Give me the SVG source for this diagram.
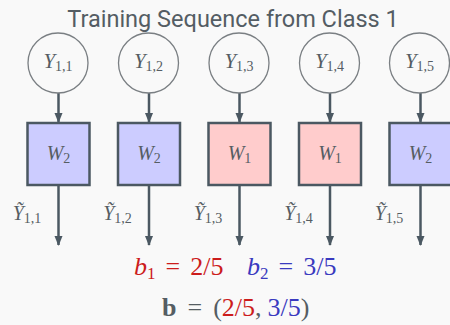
<svg xmlns="http://www.w3.org/2000/svg" width="450" height="325" viewBox="0 0 450 325">
<defs>
<style>
.title{font-family:Roboto,"Liberation Sans",sans-serif;font-size:23.5px;fill:#545d64;text-anchor:middle}
.m{font-family:"Liberation Serif","DejaVu Serif",serif;fill:#555d63;text-anchor:middle}
.big{font-family:"Liberation Serif","DejaVu Serif",serif;font-size:26px}
.it{font-style:italic}
.sub{font-size:14px}
.node circle{fill:#f9f9f9;stroke:#7a7f83;stroke-width:1.3}
.box rect{stroke:#4b5862;stroke-width:2.5}
.blue rect{fill:#ccccff}
.red rect{fill:#ffcccc}
.conn line{stroke:#4b5862;stroke-width:2.5}
.r{fill:#cc1c1c}
.b{fill:#3a3abf}
.g{fill:#555d63}
</style>
<marker id="ah" viewBox="0 0 10 10" refX="9" refY="5" markerWidth="4" markerHeight="4" markerUnits="strokeWidth" orient="auto">
<path d="M0,1 L10,5 L0,9 z" fill="#4b5862"/>
</marker>
</defs>
<rect width="450" height="325" fill="#f9f9f9"/>
<text class="title" x="233" y="27">Training Sequence from Class 1</text>

<g class="conn">
<line x1="58.5" y1="93" x2="58.5" y2="122" marker-end="url(#ah)"/>
<line x1="149" y1="93" x2="149" y2="122" marker-end="url(#ah)"/>
<line x1="239.5" y1="93" x2="239.5" y2="122" marker-end="url(#ah)"/>
<line x1="330" y1="93" x2="330" y2="122" marker-end="url(#ah)"/>
<line x1="420.5" y1="93" x2="420.5" y2="122" marker-end="url(#ah)"/>
<line x1="58.5" y1="186" x2="58.5" y2="245" marker-end="url(#ah)"/>
<line x1="149" y1="186" x2="149" y2="245" marker-end="url(#ah)"/>
<line x1="239.5" y1="186" x2="239.5" y2="245" marker-end="url(#ah)"/>
<line x1="330" y1="186" x2="330" y2="245" marker-end="url(#ah)"/>
<line x1="420.5" y1="186" x2="420.5" y2="245" marker-end="url(#ah)"/>
</g>

<g id="y11" class="node"><circle cx="58" cy="63" r="30"/><text class="m" x="58" y="68" font-size="21"><tspan class="it">Y</tspan><tspan class="sub" dy="3">1,1</tspan></text></g>
<g id="y12" class="node"><circle cx="148.5" cy="63" r="30"/><text class="m" x="148.5" y="68" font-size="21"><tspan class="it">Y</tspan><tspan class="sub" dy="3">1,2</tspan></text></g>
<g id="y13" class="node"><circle cx="239" cy="63" r="30"/><text class="m" x="239" y="68" font-size="21"><tspan class="it">Y</tspan><tspan class="sub" dy="3">1,3</tspan></text></g>
<g id="y14" class="node"><circle cx="329.5" cy="63" r="30"/><text class="m" x="329.5" y="68" font-size="21"><tspan class="it">Y</tspan><tspan class="sub" dy="3">1,4</tspan></text></g>
<g id="y15" class="node"><circle cx="419.5" cy="63" r="30"/><text class="m" x="419.5" y="68" font-size="21"><tspan class="it">Y</tspan><tspan class="sub" dy="3">1,5</tspan></text></g>

<g id="w1" class="box blue"><rect x="27.5" y="123" width="62" height="62"/><text class="m" x="58.5" y="160" font-size="20"><tspan class="it">W</tspan><tspan class="sub" dy="3">2</tspan></text></g>
<g id="w2" class="box blue"><rect x="118" y="123" width="62" height="62"/><text class="m" x="149" y="160" font-size="20"><tspan class="it">W</tspan><tspan class="sub" dy="3">2</tspan></text></g>
<g id="w3" class="box red"><rect x="208.5" y="123" width="62" height="62"/><text class="m" x="239.5" y="160" font-size="20"><tspan class="it">W</tspan><tspan class="sub" dy="3">1</tspan></text></g>
<g id="w4" class="box red"><rect x="299" y="123" width="62" height="62"/><text class="m" x="330" y="160" font-size="20"><tspan class="it">W</tspan><tspan class="sub" dy="3">1</tspan></text></g>
<g id="w5" class="box blue"><rect x="389.5" y="123" width="62" height="62"/><text class="m" x="420.5" y="160" font-size="20"><tspan class="it">W</tspan><tspan class="sub" dy="3">2</tspan></text></g>

<g id="labels">
<text class="m" x="27" y="220" font-size="20"><tspan class="it">Ỹ</tspan><tspan class="sub" dy="3">1,1</tspan></text>
<text class="m" x="117.5" y="220" font-size="20"><tspan class="it">Ỹ</tspan><tspan class="sub" dy="3">1,2</tspan></text>
<text class="m" x="208" y="220" font-size="20"><tspan class="it">Ỹ</tspan><tspan class="sub" dy="3">1,3</tspan></text>
<text class="m" x="298.5" y="220" font-size="20"><tspan class="it">Ỹ</tspan><tspan class="sub" dy="3">1,4</tspan></text>
<text class="m" x="389" y="220" font-size="20"><tspan class="it">Ỹ</tspan><tspan class="sub" dy="3">1,5</tspan></text>
</g>

<g id="counts">
<text class="big r" x="134" y="275"><tspan class="it">b</tspan><tspan font-size="17" dy="4">1</tspan><tspan dy="-4" dx="10">=</tspan><tspan dx="10">2/5</tspan></text>
<text class="big b" x="247" y="275"><tspan class="it">b</tspan><tspan font-size="17" dy="4">2</tspan><tspan dy="-4" dx="10">=</tspan><tspan dx="10">3/5</tspan></text>
<text class="big g" x="162" y="316"><tspan font-weight="bold">b</tspan><tspan dx="11">=</tspan><tspan dx="11">(</tspan><tspan class="r">2/5</tspan>,<tspan class="b" dx="6">3/5</tspan>)</text>
</g>
</svg>
